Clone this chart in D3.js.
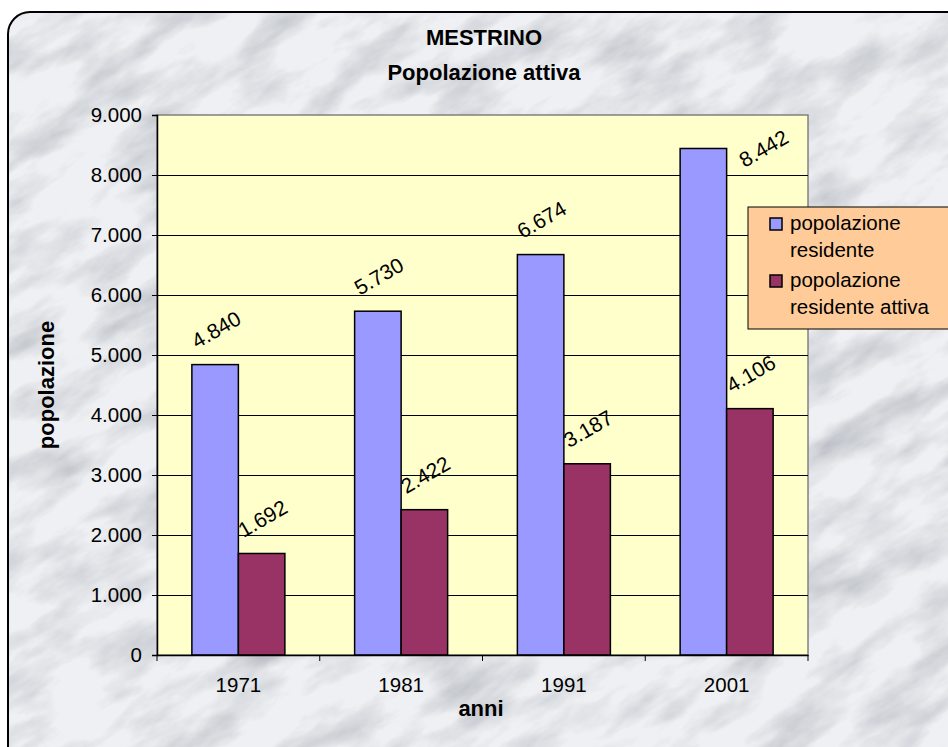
<!DOCTYPE html>
<html>
<head>
<meta charset="utf-8">
<title>MESTRINO - Popolazione attiva</title>
<style>
  body { margin: 0; background: #fff; }
  svg text { font-family: "Liberation Sans", Arial, sans-serif; }
</style>
</head>
<body>
<script src="https://cdn.jsdelivr.net/npm/d3@7"></script>
<script>
// dati
var anni = ['1971', '1981', '1991', '2001'];
var serie = ['popolazione residente', 'popolazione residente attiva'];
var residente = [4840, 5730, 6674, 8442];
var attiva = [1692, 2422, 3187, 4106];
var yTicks = [0, 1000, 2000, 3000, 4000, 5000, 6000, 7000, 8000, 9000];
var colori = ['#9999FF', '#993366'];

var W = 948, H = 747;
var plot = {left: 157, right: 808, top: 115, bottom: 655};

var svg = d3.select('body').append('svg').attr('width', W).attr('height', H);
var defs = svg.append('defs');

// texture marmo (venature morbide)
var f = defs.append('filter').attr('id', 'marmo')
  .attr('filterUnits', 'userSpaceOnUse')
  .attr('x', -600).attr('y', -600).attr('width', 2200).attr('height', 2200);
f.append('feTurbulence').attr('type', 'fractalNoise')
  .attr('baseFrequency', '0.011 0.03').attr('numOctaves', 5).attr('seed', 4).attr('result', 'n');
f.append('feColorMatrix').attr('in', 'n').attr('type', 'matrix')
  .attr('values', '0 0 0 0 0.50  0 0 0 0 0.52  0 0 0 0 0.56  1.9 0 0 0 -0.78');

defs.append('clipPath').attr('id', 'cornice')
  .append('rect').attr('x', 8).attr('y', 12).attr('width', 980).attr('height', 780).attr('rx', 22);

var bg = svg.append('g').attr('clip-path', 'url(#cornice)');
bg.append('rect').attr('x', 0).attr('y', 0).attr('width', W).attr('height', H).attr('fill', '#eef0f3');
bg.append('g').attr('transform', 'rotate(-30 474 373)')
  .append('rect').attr('x', -500).attr('y', -500).attr('width', 2000).attr('height', 2000)
  .attr('filter', 'url(#marmo)');

svg.append('rect').attr('x', 8).attr('y', 12).attr('width', 980).attr('height', 780).attr('rx', 22)
  .attr('fill', 'none').attr('stroke', '#000').attr('stroke-width', 2);

// scale
var x0 = d3.scaleBand().domain(anni).range([plot.left, plot.right]).paddingInner(0).paddingOuter(0);
var x1 = d3.scaleBand().domain(serie).range([0, x0.bandwidth()]).paddingInner(0).paddingOuter(0.75);
var y = d3.scaleLinear().domain([0, 9000]).range([plot.bottom, plot.top]);

// area del grafico
svg.append('rect').attr('x', plot.left).attr('y', plot.top)
  .attr('width', plot.right - plot.left).attr('height', plot.bottom - plot.top)
  .attr('fill', '#FFFFCC').attr('stroke', '#808080').attr('stroke-width', 1.5);

svg.append('g').selectAll('line').data(yTicks.filter(function(d) { return d > 0 && d < 9000; }))
  .enter().append('line')
  .attr('x1', plot.left).attr('x2', plot.right)
  .attr('y1', function(d) { return Math.round(y(d)) + 0.5; })
  .attr('y2', function(d) { return Math.round(y(d)) + 0.5; })
  .attr('stroke', '#000').attr('stroke-width', 1);

// barre
var dati = anni.map(function(a, i) { return {anno: a, valori: [residente[i], attiva[i]]}; });
var gruppi = svg.append('g').selectAll('g').data(dati).enter().append('g')
  .attr('transform', function(d) { return 'translate(' + x0(d.anno) + ',0)'; });

gruppi.selectAll('rect').data(function(d) {
    return d.valori.map(function(v, j) { return {serie: serie[j], v: v, j: j}; });
  })
  .enter().append('rect')
  .attr('x', function(d) { return x1(d.serie); })
  .attr('width', x1.bandwidth())
  .attr('y', function(d) { return y(d.v); })
  .attr('height', function(d) { return y(0) - y(d.v); })
  .attr('fill', function(d) { return colori[d.j]; })
  .attr('stroke', '#000').attr('stroke-width', 1.5);

// etichette dati ruotate
var fmt = d3.formatLocale({decimal: ',', thousands: '.', grouping: [3], currency: ['', '']}).format(',d');
gruppi.selectAll('text').data(function(d) {
    return d.valori.map(function(v, j) { return {serie: serie[j], v: v}; });
  })
  .enter().append('text')
  .attr('transform', function(d) {
    var cx = x1(d.serie) + x1.bandwidth() / 2 + 1;
    var cy = y(d.v) - 35;
    // se non entra sopra la barra, Excel la sposta a destra
    if (cy - 18 < plot.top) { cx = x1(d.serie) + x1.bandwidth() + 37; cy = y(d.v); }
    return 'translate(' + cx + ',' + cy + ') rotate(-30)';
  })
  .attr('text-anchor', 'middle').attr('dy', '0.35em')
  .attr('font-size', 21).attr('fill', '#000')
  .text(function(d) { return fmt(d.v); });

// assi
var yAxis = d3.axisLeft(y).tickValues(yTicks).tickSize(5).tickPadding(10)
  .tickFormat(function(d) { return fmt(d); });
var gy = svg.append('g').attr('transform', 'translate(' + plot.left + ',0)').call(yAxis);
gy.select('.domain').attr('stroke', '#000').attr('stroke-width', 1.5);
gy.selectAll('.tick line').attr('stroke', '#000');
gy.selectAll('.tick text').attr('font-size', 20.5).attr('font-family', '"Liberation Sans", Arial, sans-serif').attr('fill', '#000');

var xAxis = d3.axisBottom(x0).tickSize(0).tickPadding(22);
var gx = svg.append('g').attr('transform', 'translate(0,' + plot.bottom + ')').call(xAxis);
gx.select('.domain').attr('stroke', '#000').attr('stroke-width', 1.5);
gx.selectAll('.tick text').attr('font-size', 20.5).attr('font-family', '"Liberation Sans", Arial, sans-serif').attr('fill', '#000');
// tacche fra le categorie
gx.selectAll('.sep').data(d3.range(anni.length + 1)).enter().append('line')
  .attr('x1', function(i) { return plot.left + i * x0.step(); })
  .attr('x2', function(i) { return plot.left + i * x0.step(); })
  .attr('y1', 0).attr('y2', 6).attr('stroke', '#000').attr('stroke-width', 1);

// titoli
svg.append('text').attr('x', 484).attr('y', 45).attr('text-anchor', 'middle')
  .attr('font-size', 22).attr('font-weight', 'bold').text('MESTRINO');
svg.append('text').attr('x', 484).attr('y', 80).attr('text-anchor', 'middle')
  .attr('font-size', 22).attr('font-weight', 'bold').text('Popolazione attiva');
svg.append('text').attr('x', 481).attr('y', 716).attr('text-anchor', 'middle')
  .attr('font-size', 22).attr('font-weight', 'bold').text('anni');
svg.append('text').attr('transform', 'translate(54,385) rotate(-90)').attr('text-anchor', 'middle')
  .attr('font-size', 22).attr('font-weight', 'bold').text('popolazione');

// legenda
var leg = svg.append('g').attr('transform', 'translate(748,207)');
leg.append('rect').attr('width', 220).attr('height', 122)
  .attr('fill', '#FFCC99').attr('stroke', '#000').attr('stroke-width', 1);
var righe = [['popolazione', 'residente'], ['popolazione', 'residente attiva']];
var voci = leg.selectAll('g.voce').data(serie).enter().append('g')
  .attr('transform', function(d, i) { return 'translate(0,' + (i * 57) + ')'; });
voci.append('rect').attr('x', 22).attr('y', 11).attr('width', 12).attr('height', 12)
  .attr('fill', function(d, i) { return colori[i]; }).attr('stroke', '#000').attr('stroke-width', 1.5);
voci.append('text').attr('x', 42).attr('y', 23).attr('font-size', 20.5)
  .selectAll('tspan').data(function(d, i) { return righe[i]; }).enter().append('tspan')
  .attr('x', 42).attr('dy', function(d, k) { return k === 0 ? 0 : 27; })
  .text(function(d) { return d; });
</script>
</body>
</html>
